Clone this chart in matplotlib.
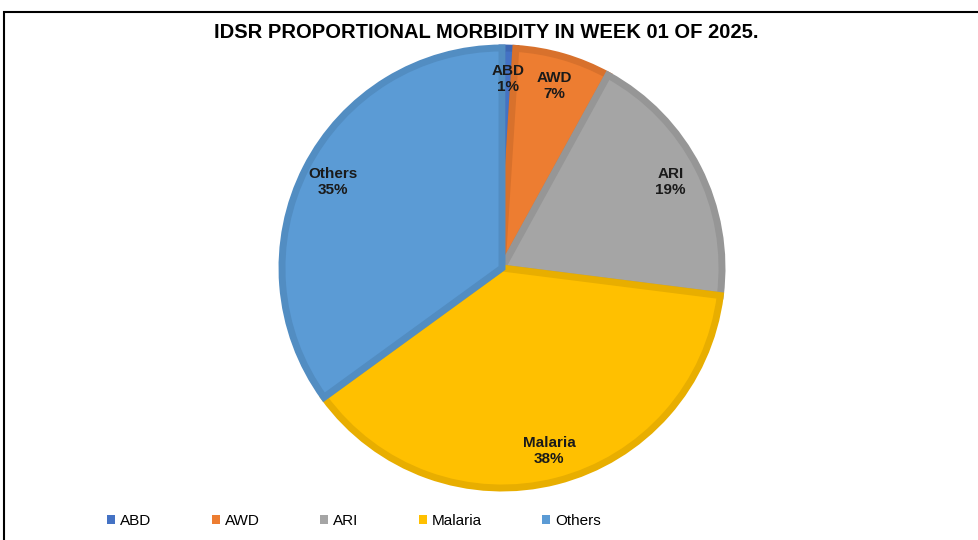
import matplotlib.pyplot as plt
from matplotlib.patches import Rectangle, Patch

# IDSR proportional morbidity, week 01 of 2025
diseases = ["ABD", "AWD", "ARI", "Malaria", "Others"]
shares = [1, 7, 19, 38, 35]
fill_colors = ["#4472C4", "#ED7D31", "#A5A5A5", "#FFC000", "#5B9BD5"]
edge_colors = ["#3E67B3", "#D8712C", "#969696", "#E8AE00", "#528DC2"]

narrow = ["Liberation Sans Narrow", "Liberation Sans", "DejaVu Sans"]

W, H = 979, 540
fig = plt.figure(figsize=(W / 100, H / 100), dpi=100)

# pie centre / radius in pixels
cx, cy, r = 502, 268, 220
pad = 1.03
ax = fig.add_axes([(cx - r * pad) / W, (H - cy - r * pad) / H,
                   2 * r * pad / W, 2 * r * pad / H])

labels = [f"{d}\n{s}%" for d, s in zip(diseases, shares)]
wedges, texts = ax.pie(shares, labels=labels, colors=fill_colors,
                       startangle=90, counterclock=False, radius=1,
                       labeldistance=0.86,
                       wedgeprops=dict(linewidth=5, joinstyle="miter"),
                       textprops=dict(fontsize=11, fontweight="bold",
                                      family=narrow, ha="center",
                                      va="center", color="#1a1a1a"))
for w, ec in zip(wedges, edge_colors):
    w.set_edgecolor(ec)
for t in texts:
    t.set_horizontalalignment("center")
    t.set_multialignment("center")
ax.set_xlim(-pad, pad)
ax.set_ylim(-pad, pad)
ax.set_aspect("equal")
ax.axis("off")

fig.text(486 / W, 1 - 32 / H, "IDSR PROPORTIONAL MORBIDITY IN WEEK 01 OF 2025.",
         ha="center", va="center", fontsize=14.5, fontweight="bold",
         family=narrow, color="black")

handles = [Patch(facecolor=c, edgecolor="none") for c in fill_colors]
fig.legend(handles, diseases, loc="center left",
           bbox_to_anchor=(107 / W, 1 - 521 / H), ncol=5, frameon=False,
           prop=dict(family=narrow, size=11), handlelength=0.55,
           handleheight=0.55, handletextpad=0.3, columnspacing=3.95,
           borderaxespad=0, borderpad=0)

# outer chart frame
fig.patches.append(Rectangle((4 / W, -0.1), 1.2, 1 - 12 / H + 0.1,
                             transform=fig.transFigure, fill=False,
                             edgecolor="black", linewidth=1.5))

fig.savefig("out.png", dpi=100)
